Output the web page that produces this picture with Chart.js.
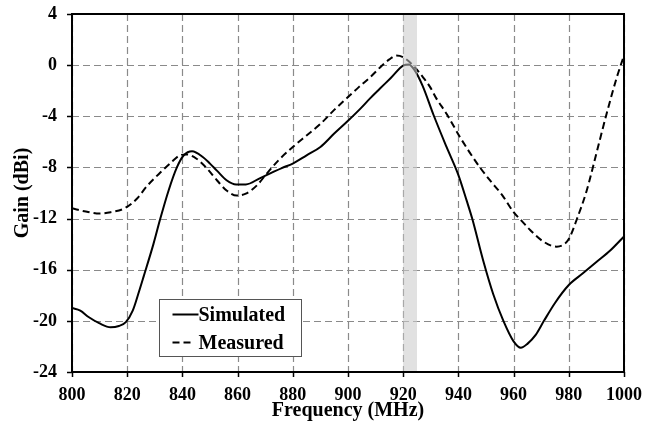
<!DOCTYPE html>
<html>
<head>
<meta charset="utf-8">
<script src="https://cdn.jsdelivr.net/npm/chart.js@4.4.0/dist/chart.umd.min.js"></script>
<style>
html,body{margin:0;padding:0;background:#fff;}
#wrap{width:654px;height:423px;}
</style>
</head>
<body>
<div id="wrap"><canvas id="c" width="654" height="423"></canvas></div>
<script>
// Data
const simFreq = [800,803,806,810,814,817,819.5,822,824,826,829.5,832,835,838,840.5,843.5,847.5,850,852.5,856,859.5,863,868,872,876,880,885,890,895,900,904.5,908,911.5,915.5,920,922,924,927,931,935.7,940,943,945,949,952.6,956.3,960,962.6,965,968,971,975,980,985,990,995,1000];
const simGain = [-19.0,-19.2,-19.7,-20.2,-20.5,-20.4,-20.1,-19.2,-17.9,-16.5,-14.0,-12.0,-9.8,-8.0,-7.05,-6.73,-7.2,-7.7,-8.25,-9.0,-9.33,-9.33,-8.85,-8.45,-8.05,-7.7,-7.05,-6.4,-5.35,-4.35,-3.4,-2.6,-1.85,-1.0,-0.03,0.05,-0.35,-1.6,-3.9,-6.4,-8.6,-10.6,-12.0,-15.3,-17.9,-20.0,-21.6,-22.1,-21.8,-21.1,-20.0,-18.6,-17.2,-16.3,-15.4,-14.5,-13.4];
const measFreq = [800,805,810,814,819,823.5,827,832,836,839,841.5,845,849,852.5,856,859.7,863,867,870.5,875,880,885,890,895,900,904,908,912,915,917.5,920,923.5,927,929.7,932,935.7,940.5,944,947.8,951.4,956,960,963,966,970.8,975.6,978,980,983,986.5,990,993.7,997.4,1000];
const measGain = [-11.2,-11.45,-11.6,-11.5,-11.2,-10.45,-9.5,-8.4,-7.6,-7.06,-6.98,-7.3,-8.1,-9.0,-9.8,-10.2,-10.05,-9.4,-8.5,-7.4,-6.4,-5.5,-4.6,-3.5,-2.5,-1.7,-0.95,-0.1,0.45,0.75,0.62,0.0,-0.9,-1.7,-2.6,-3.8,-5.6,-6.8,-8.0,-9.0,-10.2,-11.5,-12.2,-12.9,-13.8,-14.2,-14.05,-13.6,-12.0,-9.8,-6.9,-3.8,-0.95,0.75];
const seriesNames = ['Simulated','Measured'];
const bandRange = [920, 925];
const xTicks = [800,820,840,860,880,900,920,940,960,980,1000];
const yTicks = [-24,-20,-16,-12,-8,-4,0,4];

const FONT = "'Liberation Serif','Times New Roman',serif";
const toPts = (xs, ys) => xs.map((x, i) => ({x, y: ys[i]}));

function drawGridManual(chart) {
  const {ctx, chartArea: a, scales: {x, y}} = chart;
  ctx.save();
  ctx.strokeStyle = '#8a8a8a';
  ctx.lineWidth = 1.2;
  ctx.setLineDash([7, 4]);
  xTicks.forEach(v => {
    const px = Math.round(x.getPixelForValue(v)) + 0.5;
    ctx.beginPath(); ctx.moveTo(px, a.top); ctx.lineTo(px, a.bottom); ctx.stroke();
  });
  yTicks.forEach(v => {
    const py = Math.round(y.getPixelForValue(v)) + 0.5;
    ctx.beginPath(); ctx.moveTo(a.left, py); ctx.lineTo(a.right, py); ctx.stroke();
  });
  ctx.setLineDash([]);
  ctx.strokeStyle = '#000';
  ctx.lineWidth = 1.5;
  xTicks.forEach(v => {
    const px = Math.round(x.getPixelForValue(v)) + 0.5;
    ctx.beginPath(); ctx.moveTo(px, a.bottom); ctx.lineTo(px, a.bottom + 5); ctx.stroke();
  });
  yTicks.forEach(v => {
    const py = Math.round(y.getPixelForValue(v)) + 0.5;
    ctx.beginPath(); ctx.moveTo(a.left - 5, py); ctx.lineTo(a.left, py); ctx.stroke();
  });
  ctx.restore();
}

const framePlugin = {
  id: 'frame',
  beforeDatasetsDraw(chart) {
    const {ctx, chartArea: a, scales: {x}} = chart;
    ctx.save();
    ctx.fillStyle = '#ebebeb';
    const x0 = x.getPixelForValue(bandRange[0]), x1 = x.getPixelForValue(bandRange[1]);
    ctx.fillRect(x0, a.top, x1 - x0, a.bottom - a.top);
    ctx.restore();
    drawGridManual(chart);
  },
  afterDatasetsDraw(chart) {
    const {ctx, chartArea: a, scales: {x}} = chart;
    ctx.save();
    ctx.fillStyle = 'rgba(215,215,215,0.5)';
    const x0 = x.getPixelForValue(bandRange[0]), x1 = x.getPixelForValue(bandRange[1]);
    ctx.fillRect(x0, a.top, x1 - x0, a.bottom - a.top);
    // frame
    ctx.strokeStyle = '#000';
    ctx.lineWidth = 2;
    ctx.strokeRect(a.left, a.top, a.right - a.left, a.bottom - a.top);
    // legend
    const lx = 159.5, ly = 299.5, lw = 142, lh = 57;
    ctx.fillStyle = '#fff';
    ctx.fillRect(lx, ly, lw, lh);
    ctx.strokeStyle = '#555';
    ctx.lineWidth = 1;
    ctx.strokeRect(lx, ly, lw, lh);
    const rows = [ly + 15, ly + 43];
    chart.data.datasets.forEach((ds, i) => {
      ctx.strokeStyle = '#000';
      ctx.lineWidth = ds.borderWidth;
      ctx.setLineDash(ds.borderDash || []);
      ctx.beginPath();
      ctx.moveTo(lx + 13, rows[i]);
      ctx.lineTo(lx + (i === 0 ? 39 : 32), rows[i]);
      ctx.stroke();
      ctx.setLineDash([]);
      ctx.fillStyle = '#000';
      ctx.font = "bold 20px " + FONT;
      ctx.textBaseline = 'middle';
      ctx.textAlign = 'left';
      ctx.fillText(ds.label, lx + 39, rows[i] + 1);
    });
    ctx.restore();
  }
};

new Chart(document.getElementById('c'), {
  type: 'line',
  data: {
    datasets: [
      {label: seriesNames[0], data: toPts(simFreq, simGain), borderColor: '#000', borderWidth: 2, pointRadius: 0, cubicInterpolationMode: 'monotone', fill: false},
      {label: seriesNames[1], data: toPts(measFreq, measGain), borderColor: '#000', borderWidth: 2, borderDash: [7, 4], pointRadius: 0, cubicInterpolationMode: 'monotone', fill: false}
    ]
  },
  options: {
    responsive: false,
    animation: false,
    devicePixelRatio: 1,
    layout: {padding: {top: 14, right: 30, left: 0, bottom: 0}},
    plugins: {legend: {display: false}, tooltip: {enabled: false}},
    scales: {
      x: {
        type: 'linear', min: 800, max: 1000,
        afterBuildTicks: s => { s.ticks = xTicks.map(v => ({value: v})); },
        afterFit: s => { s.height = 51; s.paddingLeft = 0; s.paddingRight = 0; },
        border: {display: false},
        grid: {display: true, drawOnChartArea: false, drawTicks: true, tickLength: 5, color: 'rgba(0,0,0,0)'},
        ticks: {color: '#000', font: {family: FONT, size: 18, weight: 'bold'}, padding: 8, maxRotation: 0, autoSkip: false, callback: v => String(v)},
        title: {display: true, text: 'Frequency (MHz)', color: '#000', font: {family: FONT, size: 20, weight: 'bold'}, padding: {top: 0, bottom: 0}}
      },
      y: {
        type: 'linear', min: -24, max: 4,
        afterBuildTicks: s => { s.ticks = yTicks.map(v => ({value: v})); },
        afterFit: s => { s.width = 72; s.paddingTop = 0; s.paddingBottom = 0; },
        border: {display: false},
        grid: {display: true, drawOnChartArea: false, drawTicks: true, tickLength: 5, color: 'rgba(0,0,0,0)'},
        ticks: {color: '#000', font: {family: FONT, size: 18, weight: 'bold'}, padding: 10, autoSkip: false, callback: v => String(v)},
        title: {display: true, text: 'Gain (dBi)', color: '#000', font: {family: FONT, size: 20, weight: 'bold'}, padding: {top: 11, bottom: 0}}
      }
    }
  },
  plugins: [framePlugin]
});
</script>
</body>
</html>
